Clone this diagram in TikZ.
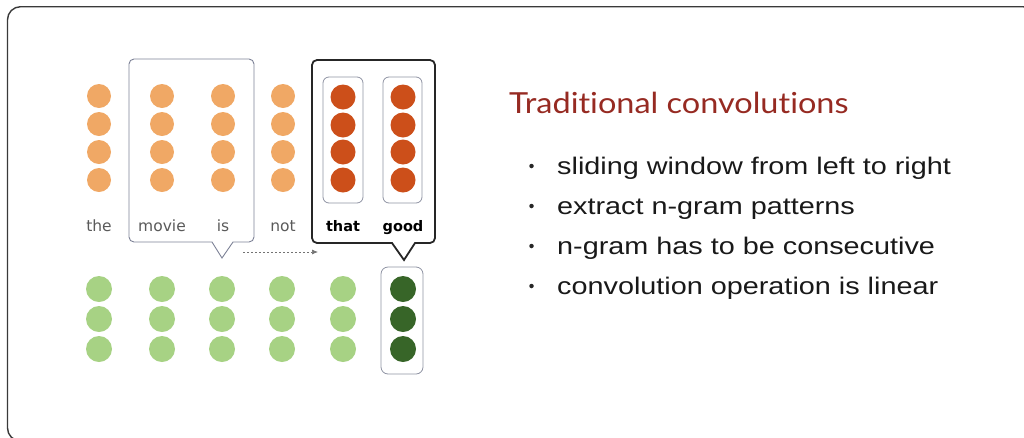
\documentclass[tikz,border=0pt]{standalone}
\usepackage{fontspec}
\setmainfont{DejaVu Sans}
\newfontfamily\titlefont[Ligatures=NoCommon, FakeStretch=1.12]{Lato}
\newfontfamily\bulletfont[FakeStretch=1.2]{Liberation Sans}
\usetikzlibrary{arrows.meta}

\definecolor{framegray}{HTML}{3A3A3A}
\definecolor{winblue}{HTML}{7C8196}
\definecolor{innergray}{HTML}{8E92A2}
\definecolor{orangeL}{HTML}{F0A865}
\definecolor{orangeD}{HTML}{CC4F1A}
\definecolor{greenL}{HTML}{A7D284}
\definecolor{greenD}{HTML}{376528}
\definecolor{titlered}{HTML}{962A22}
\definecolor{wordgray}{HTML}{5A5A5A}

\tikzset{
  dotA/.style={circle, fill=orangeL, inner sep=0pt, minimum size=24pt},
  dotB/.style={circle, fill=orangeD, inner sep=0pt, minimum size=25pt},
  dotC/.style={circle, fill=greenL, inner sep=0pt, minimum size=26pt},
  dotD/.style={circle, fill=greenD, inner sep=0pt, minimum size=26pt},
  wordlbl/.style={anchor=base, inner sep=0pt, text=wordgray,
    font=\fontsize{15.5}{15.5}\selectfont},
  wordbold/.style={anchor=base, inner sep=0pt, text=black,
    font=\bfseries\fontsize{14.5}{14.5}\selectfont},
  groupbox/.style={draw=innergray, line width=0.8pt, rounded corners=6pt},
  bullettxt/.style={anchor=base west, inner sep=0pt, text=black!90,
    font=\bulletfont\fontsize{24}{24}\selectfont},
  bulletdot/.style={circle, fill=black!85, inner sep=0pt, minimum size=4.5pt}
}

\begin{document}
\begin{tikzpicture}[x=1pt, y=-1pt]
\useasboundingbox (0,0) rectangle (1024,437);
\clip (0,0) rectangle (1024,437);

% outer frame
\draw[framegray, line width=1.4pt, rounded corners=13pt]
  (7.5,6.7) rectangle (1036,441);

% sliding window over "movie is"
\draw[winblue, line width=0.9pt, line join=miter]
  (212,242) [rounded corners=5pt] -- (129,242) -- (129,59) -- (254,59) -- (254,242)
  [sharp corners] -- (233,242) -- (222,258) -- cycle;

% current window over "that good"
\draw[black!85, line width=1.8pt, line join=miter]
  (392,243) [rounded corners=5pt] -- (312,243) -- (312,60) -- (435,60) -- (435,243)
  [sharp corners] -- (415,243) -- (404,260) -- cycle;

% word vectors boxes
\draw[groupbox] (323,77) rectangle (363,203);
\draw[groupbox] (383,77) rectangle (422,203);
\draw[groupbox, rounded corners=7pt] (381,267) rectangle (423,374);

% word embeddings
\foreach \x/\n in {99/the,162/movie,223/is,283/not}
  \foreach \y [count=\r] in {96,124,152,180}
    \node[dotA] (\n-\r) at (\x,\y) {};
\foreach \x/\n in {343/that,403/good}
  \foreach \y [count=\r] in {97,125,152,180}
    \node[dotB] (\n-\r) at (\x,\y) {};

% words
\node[wordlbl] (w-the) at (99,231) {the};
\node[wordlbl] (w-movie) at (162,231) {movie};
\node[wordlbl] (w-is) at (223,231) {is};
\node[wordlbl] (w-not) at (283,231) {not};
\node[wordbold] (w-that) at (343,231) {that};
\node[wordbold] (w-good) at (403,231) {good};

% feature maps
\foreach \x/\n in {99/f1,162/f2,222/f3,282/f4,343/f5}
  \foreach \y [count=\r] in {289,319,349}
    \node[dotC] (\n-\r) at (\x,\y) {};
\foreach \y [count=\r] in {289,319,349}
  \node[dotD] (f6-\r) at (403,\y) {};

% sliding direction
\coordinate (slideS) at (243,252);
\coordinate (slideE) at (318,252);
\draw[black!55, line width=0.7pt, dash pattern=on 1.5pt off 2.5pt,
  -{Latex[length=6pt,width=5pt]}] (slideS) -- (slideE);

% heading and bullet list
\node[anchor=base west, inner sep=0pt, text=titlered,
  font=\titlefont\fontsize{29}{29}\selectfont] (title) at (509,113)
  {Traditional convolutions};
\foreach \t [count=\i] in {sliding window from left to right,
    extract n-gram patterns,
    n-gram has to be consecutive,
    convolution operation is linear} {
  \node[bulletdot] (dot\i) at (531.5,{166+40*(\i-1)}) {};
  \node[bullettxt] (item\i) at (557,{174+40*(\i-1)}) {\t};
}
\end{tikzpicture}
\end{document}
